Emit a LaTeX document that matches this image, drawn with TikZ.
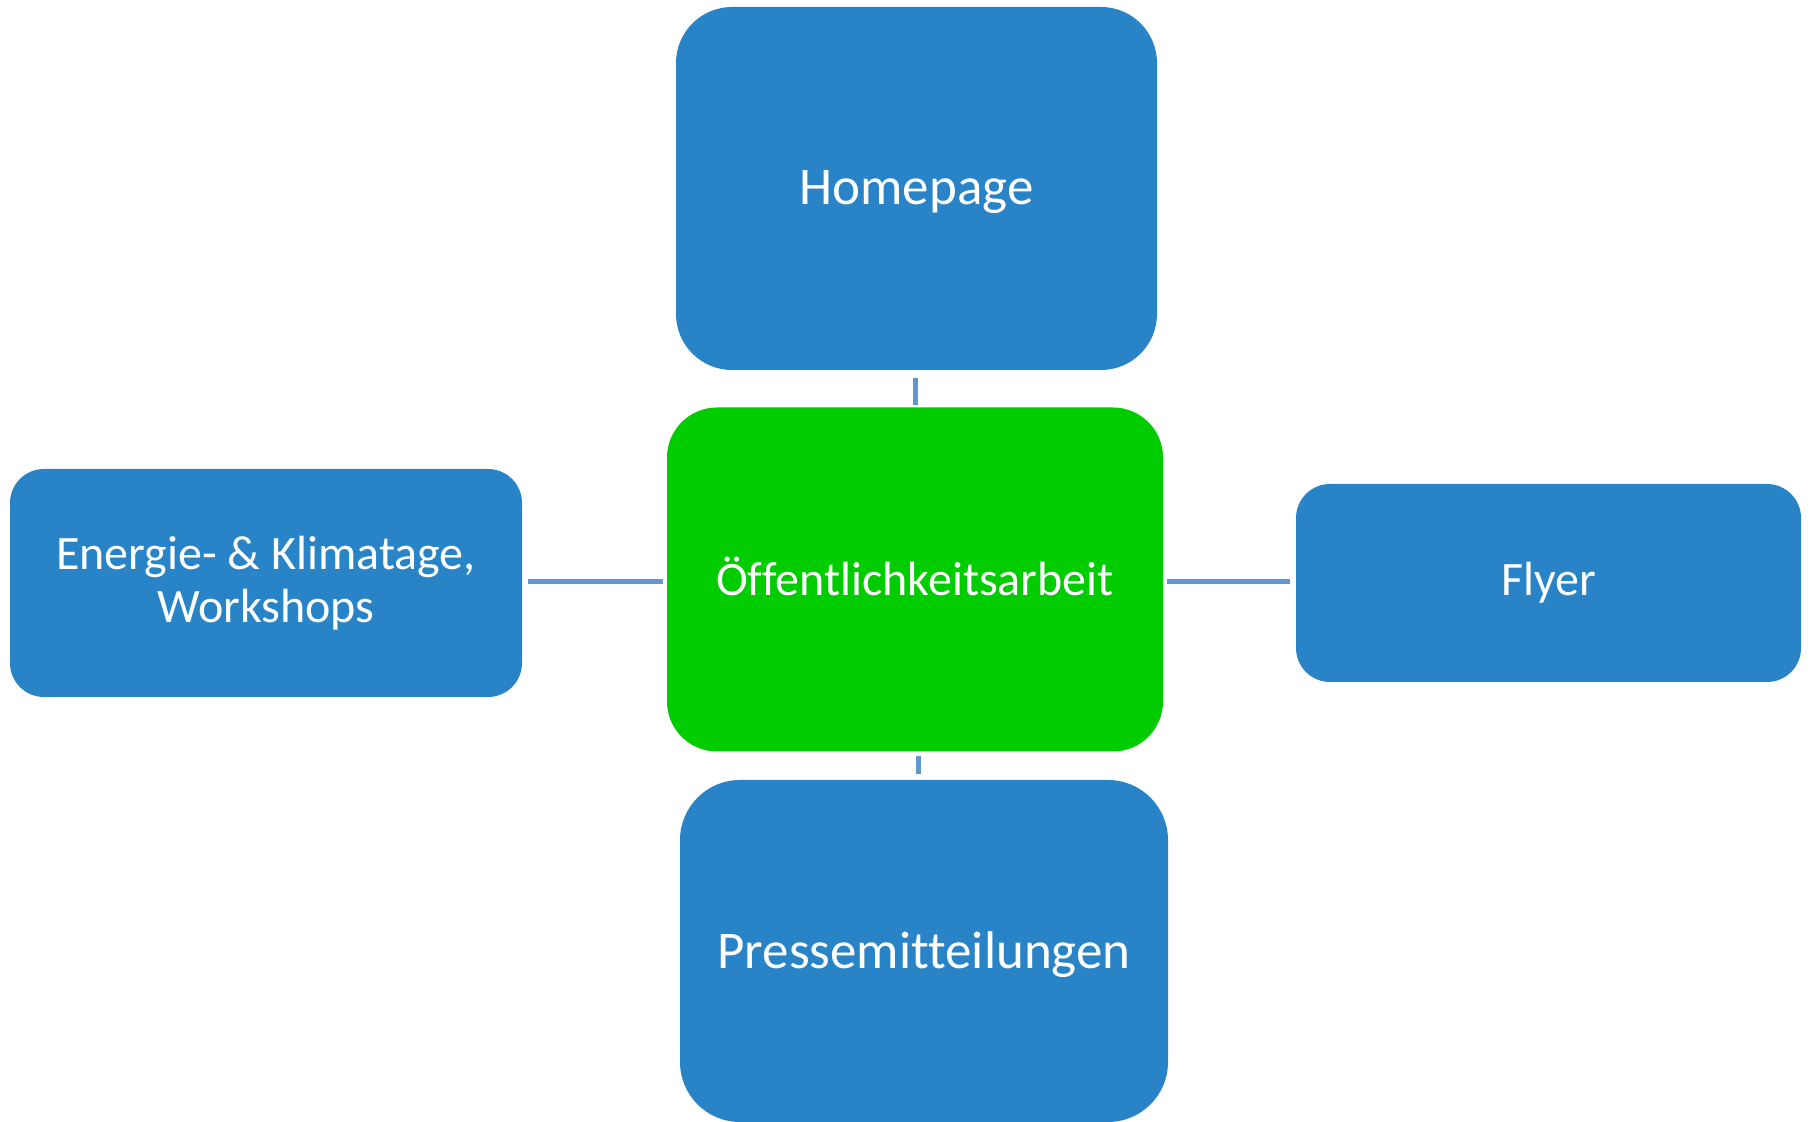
\documentclass[tikz,border=0pt]{standalone}
\usepackage{fontspec}
\setmainfont{Carlito}[Ligatures={NoCommon}]
\definecolor{boxblue}{RGB}{40,132,199}
\definecolor{boxgreen}{RGB}{0,204,0}
\definecolor{linkblue}{RGB}{98,150,208}
\newcommand{\shiftit}[2]{\raisebox{#1}[\height][\depth]{#2}}
\begin{document}
\begin{tikzpicture}[x=0.5pt,y=-0.5pt,
  card/.style={rectangle, fill=boxblue, draw=none, text=white, align=center, inner sep=0pt},
  hub/.style={card, fill=boxgreen},
  link/.style={draw=linkblue, line width=2.5pt, shorten <=2pt, shorten >=3pt}]
\useasboundingbox[fill=white] (0,0) rectangle (1811,1122);
\node[card, minimum width=240.5pt, minimum height=181.5pt, rounded corners=28pt, font=\fontsize{26.5}{32}\selectfont] (home) at (916.5,188.5) {\shiftit{-1.75pt}{Homepage}};
\node[hub, minimum width=248pt, minimum height=172pt, rounded corners=25pt, font=\fontsize{24}{29}\selectfont] (center) at (915,579.5) {\shiftit{1.75pt}{Öffentlichkeitsarbeit}};
\node[card, minimum width=256pt, minimum height=114pt, rounded corners=17pt, font=\fontsize{24}{26.5}\selectfont] (left) at (266,583) {Energie- \& Klimatage,\\Workshops};
\node[card, minimum width=252.5pt, minimum height=99pt, rounded corners=17pt, font=\fontsize{24}{29}\selectfont] (flyer) at (1548.5,583) {Flyer};
\node[card, minimum width=244pt, minimum height=171pt, rounded corners=30pt, font=\fontsize{26.5}{32}\selectfont] (press) at (924,951) {\shiftit{-2pt}{Pressemitteilungen}};
\draw[link] ([yshift=-1pt]center.north) -- ([yshift=-1pt]center.north |- home.south);
\draw[link] ([yshift=-1pt]center.west) -- ([yshift=-1pt]left.east |- center.west);
\draw[link] ([yshift=-1pt]center.east) -- ([yshift=-1pt]flyer.west |- center.east);
\draw[link] ([xshift=1.5pt]center.south) -- ([xshift=1.5pt]center.south |- press.north);
\end{tikzpicture}
\end{document}
